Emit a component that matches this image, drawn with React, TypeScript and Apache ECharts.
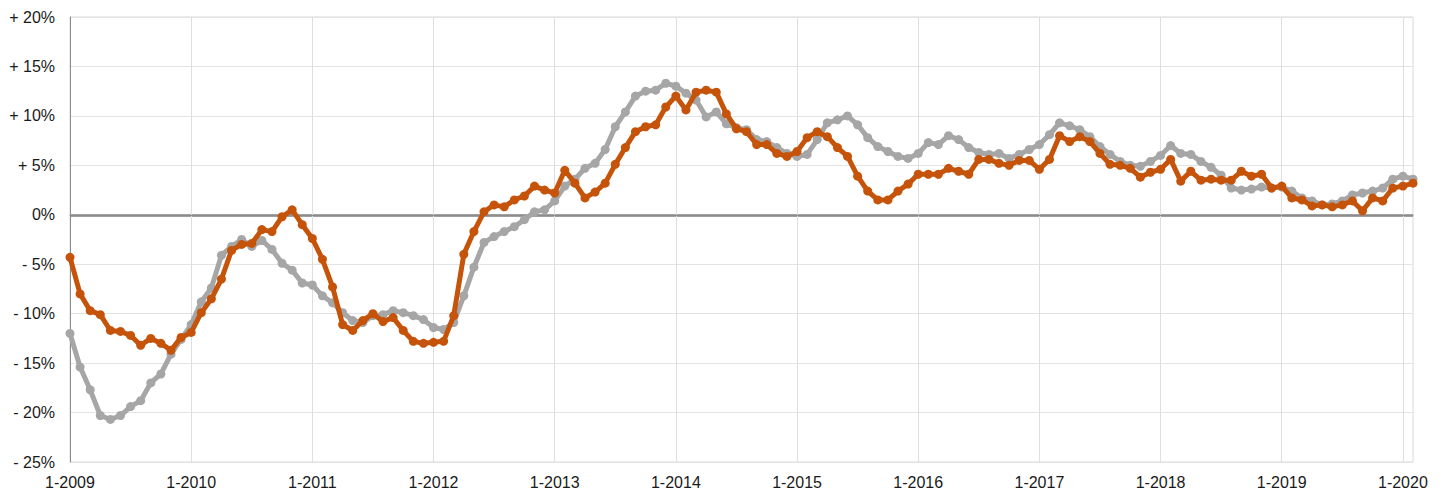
import React, { useEffect, useRef } from "react";
import * as echarts from "echarts";

const startYear = 2009;
const monthCount = 134;
const months: string[] = [];
for (let i = 0; i < monthCount; i++) {
  months.push(`${(i % 12) + 1}-${startYear + Math.floor(i / 12)}`);
}

const graySeries = [
  -12.0, -15.4, -17.7, -20.3, -20.7, -20.3, -19.4, -18.8, -17.0, -16.1, -14.1, -12.6,
  -11.1, -8.8, -7.4, -4.1, -3.2, -2.5, -3.2, -2.6, -3.5, -4.9, -5.6, -6.9,
  -7.1, -8.2, -8.9, -9.9, -10.7, -10.9, -10.2, -10.1, -9.7, -9.9, -10.2, -10.6,
  -11.4, -11.6, -10.9, -8.2, -5.3, -2.8, -2.2, -1.7, -1.2, -0.5, 0.3, 0.5,
  1.4, 2.9, 3.6, 4.7, 5.2, 6.6, 8.9, 10.4, 12.0, 12.5, 12.6, 13.3,
  13.0, 12.3, 11.6, 9.9, 10.4, 9.2, 8.8, 8.6, 7.6, 7.4, 6.8, 6.2,
  5.9, 6.1, 7.6, 9.3, 9.6, 10.0, 9.1, 7.8, 6.9, 6.4, 5.9, 5.7,
  6.2, 7.3, 7.1, 8.0, 7.6, 6.8, 6.3, 6.1, 6.2, 5.7, 6.1, 6.6,
  7.1, 8.1, 9.3, 9.0, 8.6, 7.9, 6.9, 6.1, 5.4, 5.0, 4.9, 5.4,
  6.0, 7.0, 6.2, 6.1, 5.4, 4.8, 4.0, 2.7, 2.5, 2.6, 2.8, 2.7,
  2.8, 2.4, 1.7, 1.4, 1.0, 1.1, 1.4, 2.0, 2.2, 2.4, 2.7, 3.6,
  3.9, 3.6,
];

const orangeSeries = [
  -4.3, -8.0, -9.7, -10.1, -11.7, -11.8, -12.2, -13.2, -12.5, -13.0, -13.7, -12.4,
  -11.9, -9.9, -8.5, -6.5, -3.6, -3.0, -2.9, -1.5, -1.7, -0.2, 0.5, -1.0,
  -2.4, -4.5, -7.3, -11.1, -11.7, -10.7, -10.0, -10.8, -10.4, -11.7, -12.8, -13.0,
  -12.9, -12.8, -10.2, -4.0, -1.7, 0.3, 1.0, 0.8, 1.5, 1.9, 2.9, 2.5,
  2.2, 4.5, 3.2, 1.7, 2.3, 3.2, 5.1, 6.8, 8.4, 8.9, 9.1, 10.9,
  12.0, 10.6, 12.4, 12.6, 12.4, 10.2, 8.7, 8.4, 7.1, 7.1, 6.2, 5.9,
  6.4, 7.8, 8.4, 7.9, 6.8, 5.9, 3.9, 2.4, 1.5, 1.5, 2.4, 3.1,
  4.1, 4.1, 4.1, 4.7, 4.4, 4.1, 5.6, 5.6, 5.2, 5.0, 5.5, 5.5,
  4.6, 5.6, 8.0, 7.4, 7.9, 7.4, 6.2, 5.1, 5.0, 4.7, 3.8, 4.3,
  4.6, 5.6, 3.4, 4.4, 3.5, 3.6, 3.5, 3.5, 4.4, 3.9, 4.1, 2.7,
  2.9, 1.7, 1.5, 0.9, 1.0, 0.8, 1.0, 1.4, 0.4, 1.7, 1.4, 2.7,
  2.9, 3.2,
];

const yMin = -25;
const yMax = 20;
const yStep = 5;

const fmtPct = (v: number) => (v > 0 ? `+ ${v}%` : v < 0 ? `- ${Math.abs(v)}%` : "0%");

export default function App() {
  const ref = useRef<HTMLDivElement>(null);
  useEffect(() => {
    if (!ref.current) return;
    const chart = echarts.init(ref.current, undefined, { renderer: "svg" });
    const font = "'Liberation Sans', Arial, Helvetica, sans-serif";
    chart.setOption({
      animation: false,
      backgroundColor: "#ffffff",
      grid: {
        left: 70,
        right: 31,
        top: 17,
        bottom: 27,
        show: true,
        borderColor: "#d9d9d9",
        borderWidth: 1,
      },
      xAxis: {
        type: "category",
        data: months,
        boundaryGap: false,
        axisLine: { show: true, lineStyle: { color: "#8c8c8c", width: 1 } },
        axisTick: { show: false },
        axisLabel: {
          interval: (idx: number) => idx % 12 === 0,
          formatter: (v: string) => v,
          color: "#1a1a1a",
          fontSize: 16,
          fontFamily: font,
          margin: 12,
        },
        splitLine: {
          show: true,
          interval: (idx: number) => idx % 12 === 0,
          lineStyle: { color: "#dedede", width: 1 },
        },
      },
      yAxis: [
        {
          type: "value",
          min: yMin,
          max: yMax,
          interval: yStep,
          axisLine: { show: true, lineStyle: { color: "#8c8c8c", width: 1 } },
          axisTick: { show: false },
          axisLabel: {
            formatter: fmtPct,
            color: "#1a1a1a",
            fontSize: 16,
            fontFamily: font,
            margin: 15,
          },
          splitLine: { show: true, lineStyle: { color: "#e3e3e3", width: 1 } },
        },
        {
          type: "value",
          min: yMin,
          max: yMax,
          interval: 25,
          position: "left",
          axisLine: { show: false },
          axisTick: { show: false },
          axisLabel: { show: false },
          splitLine: {
            show: true,
            lineStyle: {
              color: ["rgba(0,0,0,0)", "#808080", "rgba(0,0,0,0)"],
              width: 2.5,
            },
          },
        },
      ],
      series: [
        {
          type: "line",
          data: graySeries,
          yAxisIndex: 0,
          symbol: "circle",
          symbolSize: 9,
          showSymbol: true,
          showAllSymbol: true,
          itemStyle: { color: "#a6a6a6" },
          lineStyle: { color: "#a6a6a6", width: 5 },
          z: 3,
        },
        {
          type: "line",
          data: orangeSeries,
          yAxisIndex: 0,
          symbol: "circle",
          symbolSize: 9,
          showSymbol: true,
          showAllSymbol: true,
          itemStyle: { color: "#c5540a" },
          lineStyle: { color: "#c5540a", width: 5 },
          z: 4,
        },
      ],
    });
    return () => chart.dispose();
  }, []);
  return (
    <div
      ref={ref}
      style={{ position: "absolute", left: 0, top: 0, width: 1444, height: 490 }}
    />
  );
}
